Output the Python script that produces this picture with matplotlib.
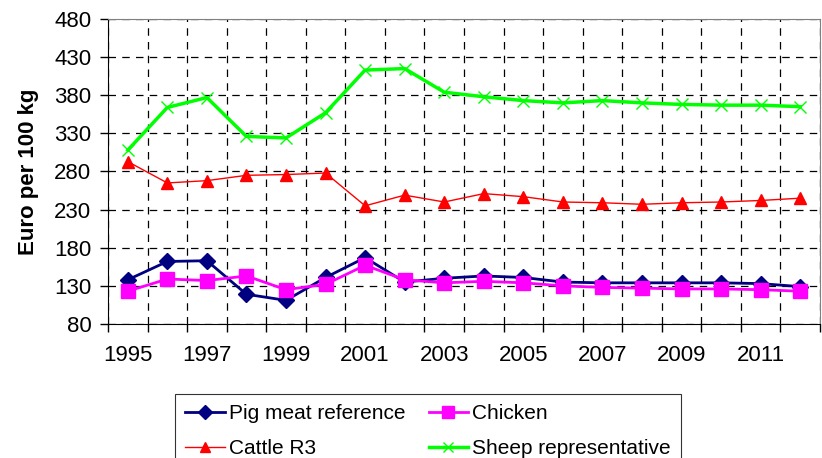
import numpy as np
import matplotlib.pyplot as plt
from matplotlib.ticker import FixedLocator, NullFormatter

plt.rcParams['font.family'] = ['Liberation Sans', 'DejaVu Sans']

years = list(range(1995, 2013))
pig = [138, 162, 163, 119, 111, 141, 167, 135, 140, 143, 141, 135, 134, 134, 134, 134, 133, 129]
chicken = [123, 139, 137, 143, 125, 132, 157, 138, 134, 136, 134, 130, 128, 127, 126, 126, 125, 123]
cattle = [293, 265, 268, 275, 276, 278, 235, 249, 240, 251, 247, 240, 239, 237, 239, 240, 242, 245]
sheep = [308, 364, 377, 326, 324, 357, 413, 415, 384, 378, 373, 370, 373, 370, 368, 367, 367, 365]
y_ticks = list(range(80, 481, 50))

x = np.arange(len(years))

fig = plt.figure(figsize=(8.22, 4.58), dpi=100)
ax = fig.add_axes([108 / 822, 1 - 324 / 458, 712 / 822, 305 / 458])

l_pig, = ax.plot(x, pig, color='#000080', lw=2, marker='D', ms=8.5,
                 label='Pig meat reference', zorder=4)
l_chk, = ax.plot(x, chicken, color='#FF00FF', lw=2, marker='s', ms=9.5,
                 label='Chicken', zorder=5)
l_cat, = ax.plot(x, cattle, color='#FF0000', lw=1, marker='^', ms=8,
                 label='Cattle R3', zorder=3)
l_shp, = ax.plot(x, sheep, color='#00FF00', lw=2.5, marker='x', ms=9, mew=1,
                 label='Sheep representative', zorder=3)

ax.set_xlim(-0.5, len(years) - 0.5)
ax.set_ylim(80, 480)
ax.set_yticks(y_ticks)
ax.tick_params(axis='y', labelsize=16, length=6, width=1, direction='out', pad=6)

# category boundaries carry the ticks and grid, labels every other year
ax.xaxis.set_major_locator(FixedLocator(np.arange(-0.5, len(years), 1.0)))
ax.xaxis.set_major_formatter(NullFormatter())
ax.xaxis.set_minor_locator(FixedLocator(x[::2]))
ax.set_xticklabels([str(y) for y in years[::2]], minor=True)
ax.tick_params(axis='x', which='major', length=6, width=1, direction='out')
ax.tick_params(axis='x', which='minor', length=0, labelsize=16, pad=15)

ax.grid(True, which='major', color='black', ls=(0, (6, 5)), lw=0.9)
ax.set_axisbelow(True)

for side in ['top', 'right']:
    ax.spines[side].set_color('#808080')
for side in ['left', 'bottom']:
    ax.spines[side].set_color('black')

ax.set_ylabel('Euro per 100 kg', fontsize=16, fontweight='bold', labelpad=11)

leg = fig.legend([l_pig, l_cat, l_chk, l_shp],
                 ['Pig meat reference', 'Cattle R3', 'Chicken', 'Sheep representative'],
                 ncol=2, loc='upper left', bbox_to_anchor=(175 / 822, 1 - 394 / 458),
                 fontsize=15, frameon=True, fancybox=False, edgecolor='black',
                 handlelength=1.9, handletextpad=0.2, columnspacing=1.1,
                 labelspacing=0.75, borderpad=0.5, borderaxespad=0, markerscale=0.85)
leg.get_frame().set_linewidth(0.8)

plt.savefig('out.png', dpi=100)
